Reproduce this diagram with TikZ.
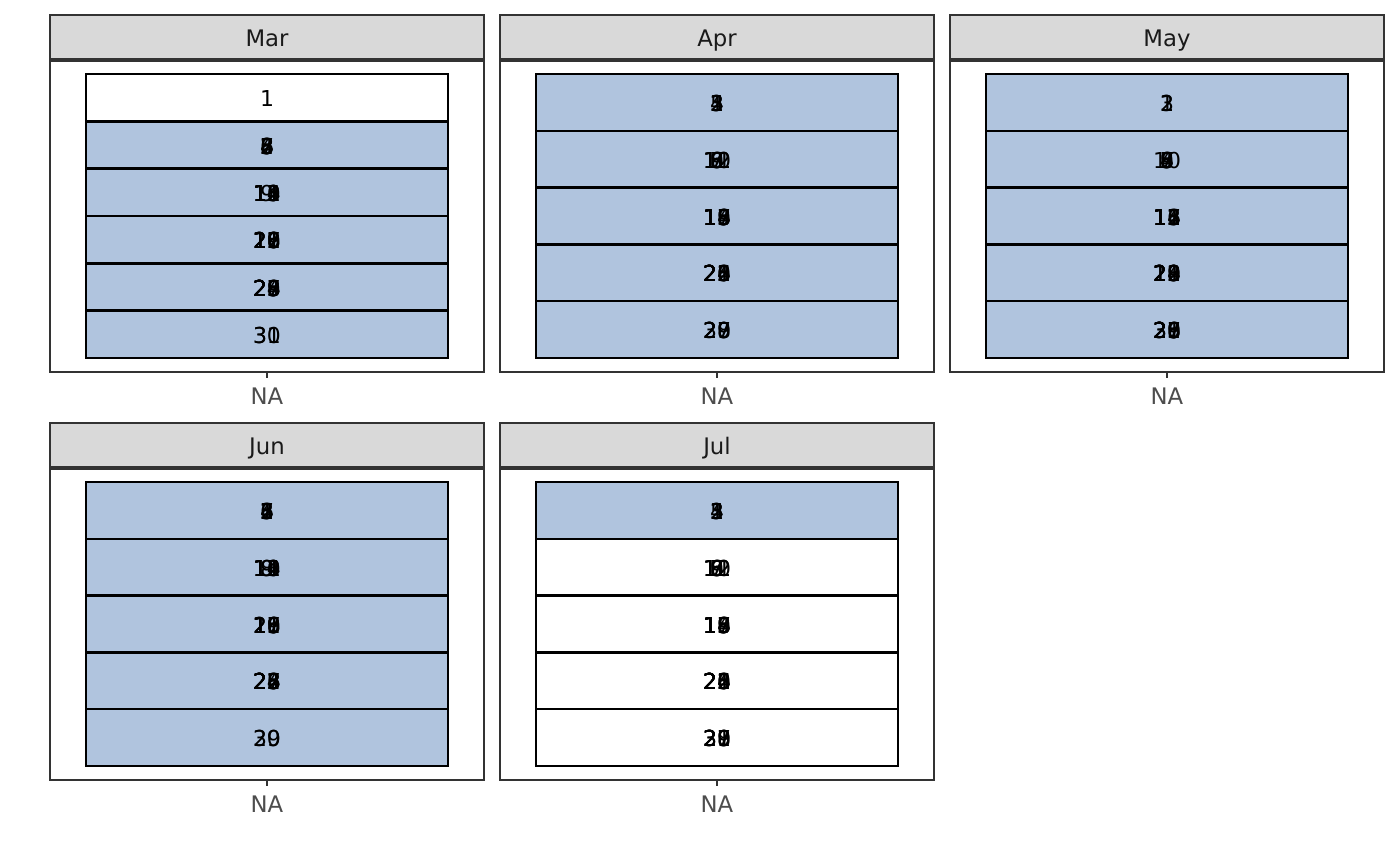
\documentclass[tikz,border=0pt]{standalone}
\usepackage{fontspec}
\setmainfont{DejaVu Sans}
\definecolor{stripfill}{HTML}{D9D9D9}
\definecolor{gtwenty}{HTML}{333333}
\definecolor{gten}{HTML}{1A1A1A}
\definecolor{gthirty}{HTML}{4D4D4D}
\definecolor{calblue}{HTML}{B0C4DE}
\newcommand\calpanel[5]{%
  % #1 name, #2 x0, #3 y0, #4 title, #5 rows fill/first/last
  \draw[stripbox] (#2,#3) rectangle ++(434,44);
  \node[striptext] (#1-strip) at ({#2+217},{#3+21.5}) {#4};
  \draw[panelbox] (#2,{#3+46}) rectangle ++(434,311);
  \def\nrows{0}%
  \foreach \f/\a/\b in {#5} {\xdef\nrows{\the\numexpr\nrows+1\relax}}%
  \pgfmathsetmacro\rh{284/\nrows}%
  \foreach \f/\a/\b [count=\i] in {#5} {
    \draw[rowbox, fill=\f] ({#2+36},{#3+59+(\i-1)*\rh}) rectangle ({#2+398},{#3+59+\i*\rh});
    \foreach \d in {\a,...,\b} {
      \node[daytext] (#1-d\d) at ({#2+217},{#3+58+(\i-0.5)*\rh}) {\d};
    }
  }
  \draw[rowbox] ({#2+36},{#3+59}) rectangle ({#2+398},{#3+343});
  \draw[tickline] ({#2+217},{#3+357}) -- ({#2+217},{#3+363});
  \node[axistext] (#1-na) at ({#2+217},{#3+379.5}) {NA};
}
\begin{document}
\begin{tikzpicture}[x=0.36pt,y=-0.36pt,
  stripbox/.style={draw=gtwenty, fill=stripfill, line width=0.4pt},
  striptext/.style={text=gten, font=\fontsize{8.2}{9.8}\selectfont, inner sep=0pt, text height=0.73em, text depth=0pt},
  panelbox/.style={draw=gtwenty, fill=white, line width=0.4pt},
  rowbox/.style={draw=black, line width=0.9pt},
  daytext/.style={text=black, font=\fontsize{7.9}{9.5}\selectfont, inner sep=0pt, text height=0.73em, text depth=0pt},
  tickline/.style={draw=gtwenty, line width=0.75pt},
  axistext/.style={text=gthirty, font=\fontsize{8.2}{9.8}\selectfont, inner sep=0pt, text height=0.73em, text depth=0pt}]
\useasboundingbox[fill=white] (0,0) rectangle (1400,866);
\calpanel{mar}{50}{15}{Mar}{white/1/1,calblue/2/8,calblue/9/15,calblue/16/22,calblue/23/29,calblue/30/31}
\calpanel{apr}{500}{15}{Apr}{calblue/1/5,calblue/6/12,calblue/13/19,calblue/20/26,calblue/27/30}
\calpanel{may}{950}{15}{May}{calblue/1/3,calblue/4/10,calblue/11/17,calblue/18/24,calblue/25/31}
\calpanel{jun}{50}{423}{Jun}{calblue/1/7,calblue/8/14,calblue/15/21,calblue/22/28,calblue/29/30}
\calpanel{jul}{500}{423}{Jul}{calblue/1/5,white/6/12,white/13/19,white/20/26,white/27/31}
\end{tikzpicture}
\end{document}
